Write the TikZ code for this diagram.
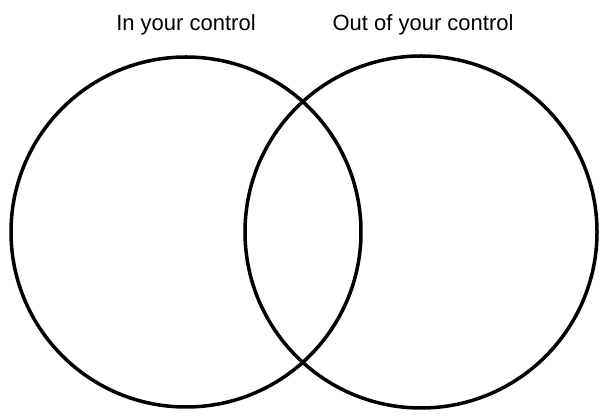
\documentclass[tikz,border=0pt]{standalone}
\usepackage{fontspec}
\setmainfont{Liberation Sans}
\begin{document}
\begin{tikzpicture}[x=1pt,y=1pt,
  venn/.style={draw=black, line width=3.5pt, circle, inner sep=0pt, minimum size=#1},
  lbl/.style={anchor=base, font=\fontsize{22}{26}\selectfont, inner sep=0pt}]
\useasboundingbox (0,0) rectangle (607,417);
\node[venn=350pt] (left) at (186,185) {};
\node[venn=352pt] (right) at (421,185) {};
\node[lbl] (inlbl) at (186,386) {In your control};
\node[lbl] (outlbl) at (423,386) {Out of your control};
\end{tikzpicture}
\end{document}
